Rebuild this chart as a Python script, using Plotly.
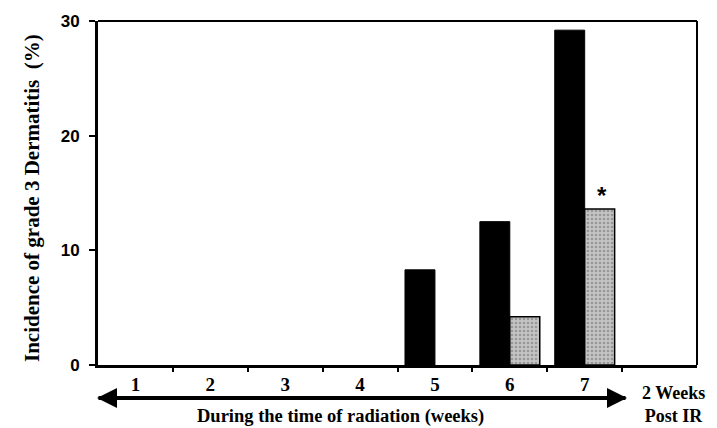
import plotly.graph_objects as go

# Weekly incidence of grade 3 dermatitis (%)
weeks = [1, 2, 3, 4, 5, 6, 7, 8]
week_labels = ["1", "2", "3", "4", "5", "6", "7"]
control = [0, 0, 0, 0, 8.3, 12.5, 29.2, 0]
treated = [0, 0, 0, 0, 0, 4.2, 13.6, 0]

W, H = 717, 428
L, R, T, B = 98, 20, 21, 63
pw, ph = W - L - R, H - T - B


def px_x(p):
    return (p - L) / pw


def px_y(p):
    return (H - B - p) / ph


serif = "Liberation Serif, Times New Roman, serif"
sans = "Liberation Sans, Arial, sans-serif"

# no outline on empty (zero-height) bars
ctrl_edge = [1 if v else 0 for v in control]
trt_edge = [1.5 if v else 0 for v in treated]

fig = go.Figure()
fig.add_trace(go.Bar(
    x=weeks, y=control, name="Control",
    marker=dict(color="black", line=dict(color="black", width=ctrl_edge)),
))
fig.add_trace(go.Bar(
    x=weeks, y=treated, name="Treated",
    marker=dict(color="#b4b4b4", line=dict(color="black", width=trt_edge),
                pattern=dict(shape=".", fgcolor="#6a6a6a", bgcolor="#c4c4c4",
                             size=4, solidity=0.35)),
))

fig.update_layout(
    width=W, height=H, margin=dict(l=L, r=R, t=T, b=B),
    plot_bgcolor="white", paper_bgcolor="white",
    barmode="group", bargap=0.2, bargroupgap=0,
    showlegend=False,
    xaxis=dict(
        range=[0.5, 8.5], tickvals=weeks[:7], ticktext=week_labels,
        ticks="", showgrid=False, zeroline=False, layer="above traces",
        showline=True, linecolor="black", linewidth=3,
        tickfont=dict(family=serif, size=19, color="black", weight="bold"),
        ticklabelstandoff=0,
        minor=dict(tickvals=[1.5, 2.5, 3.5, 4.5, 5.5, 6.5, 7.5],
                   ticks="outside", ticklen=4, tickwidth=2, tickcolor="black"),
    ),
    yaxis=dict(
        range=[0, 30], tickvals=[0, 10, 20, 30],
        ticks="outside", ticklen=6, tickwidth=2, tickcolor="black",
        showgrid=False, zeroline=False, layer="above traces",
        showline=True, linecolor="black", linewidth=3,
        tickfont=dict(family=sans, size=17, color="black", weight="bold"),
        ticklabelstandoff=6,
    ),
)

# thin frame on top and right
fig.add_shape(type="line", xref="paper", yref="paper", x0=0, x1=1, y0=1, y1=1,
              line=dict(color="black", width=2))
fig.add_shape(type="line", xref="paper", yref="paper", x0=1, x1=1, y0=0, y1=1,
              line=dict(color="black", width=2))

# double-headed arrow spanning the radiation weeks
arrow_y = px_y(398)
x_left = 0.5 + (97 - L) / (pw / 8)
x_right = 0.5 + (627 - L) / (pw / 8)
for tip, tail in ((x_right, x_left), (x_left, x_right)):
    fig.add_annotation(x=tip, y=arrow_y, xref="x", yref="paper",
                       ax=tail, ay=0, axref="x", ayref="pixel",
                       showarrow=True, arrowhead=2, arrowsize=1.0,
                       arrowwidth=4, arrowcolor="black", text="")

fig.add_annotation(x=px_x(340), y=px_y(416), xref="paper", yref="paper",
                   xanchor="center", yanchor="middle",
                   text="During the time of radiation (weeks)", showarrow=False,
                   font=dict(family=serif, size=18.5, color="black", weight="bold"))
fig.add_annotation(x=px_x(673), y=px_y(404), xref="paper", yref="paper",
                   xanchor="center", yanchor="middle", borderpad=0,
                   text="2 Weeks<br>Post IR", showarrow=False,
                   font=dict(family=serif, size=18, color="black", weight="bold"))

# y-axis title
fig.add_annotation(x=px_x(32), y=px_y(198), xref="paper", yref="paper",
                   xanchor="center", yanchor="middle",
                   text="Incidence of grade 3 Dermatitis\u00a0\u00a0(%)",
                   textangle=-90, showarrow=False,
                   font=dict(family=serif, size=21, color="black", weight="bold"))

# significance marker over the treated bar in week 7
fig.add_annotation(x=7, y=treated[6], xref="x", yref="y", xshift=17, yshift=14,
                   text="*", showarrow=False,
                   font=dict(family=sans, size=24, color="black", weight="bold"))

fig.write_html("out.html")
